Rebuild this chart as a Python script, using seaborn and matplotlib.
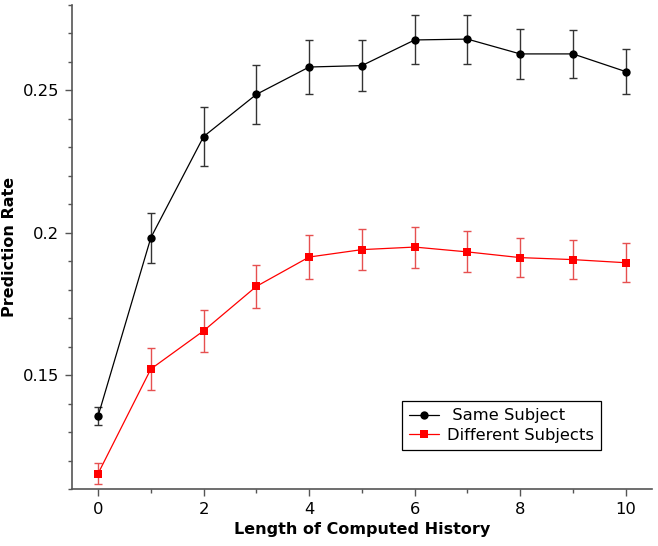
import pandas as pd
import matplotlib.pyplot as plt
import seaborn as sns
import numpy as np
from matplotlib.ticker import MultipleLocator

sns.set_style("ticks")
plt.rcParams['font.family'] = ['DejaVu Sans']
plt.rcParams['text.color'] = 'black'
plt.rcParams['axes.labelcolor'] = 'black'

history = [0, 1, 2, 3, 4, 5, 6, 7, 8, 9, 10]
same_rate = [0.1357, 0.1983, 0.2338, 0.2486, 0.2582, 0.2587, 0.2677, 0.2680, 0.2628, 0.2628, 0.2566]
same_err = [0.0032, 0.0088, 0.0104, 0.0104, 0.0095, 0.0090, 0.0086, 0.0086, 0.0087, 0.0085, 0.0078]
diff_rate = [0.1155, 0.1522, 0.1656, 0.1812, 0.1915, 0.1941, 0.1950, 0.1933, 0.1913, 0.1906, 0.1895]
diff_err = [0.0038, 0.0072, 0.0074, 0.0076, 0.0076, 0.0073, 0.0072, 0.0072, 0.0068, 0.0068, 0.0069]

df = pd.DataFrame({
    'history': history * 2,
    'rate': same_rate + diff_rate,
    'group': [' Same Subject'] * len(history) + ['Different Subjects'] * len(history),
})

fig, ax = plt.subplots(1, 1, figsize=(6.58, 5.46), dpi=100)
fig.subplots_adjust(left=0.109, right=0.991, bottom=0.104, top=0.991)

# error bars first so lines/markers sit on top
ax.errorbar(history, same_rate, yerr=same_err, fmt='none', ecolor='#333333',
            elinewidth=1.0, capsize=3, capthick=1.0, zorder=2)
ax.errorbar(history, diff_rate, yerr=diff_err, fmt='none', ecolor='#e65050',
            elinewidth=1.0, capsize=3, capthick=1.0, zorder=2)

sns.lineplot(data=df, x='history', y='rate', hue='group', style='group',
             palette={' Same Subject': 'black', 'Different Subjects': '#ff0000'},
             markers={' Same Subject': 'o', 'Different Subjects': 's'},
             dashes=False, markersize=6, linewidth=0.9, markeredgewidth=0,
             ax=ax, zorder=3)

ax.set_xlim(-0.5, 10.5)
ax.set_ylim(0.11, 0.28)
ax.xaxis.set_major_locator(MultipleLocator(2))
ax.xaxis.set_minor_locator(MultipleLocator(1))
ax.yaxis.set_minor_locator(MultipleLocator(0.01))
ax.set_yticks([0.15, 0.2, 0.25])
ax.set_yticklabels(['0.15', '0.2', '0.25'])

ax.spines['top'].set_visible(False)
ax.spines['right'].set_visible(False)
for s in ['left', 'bottom']:
    ax.spines[s].set_color('#555555')
    ax.spines[s].set_linewidth(1.2)
ax.tick_params(which='major', length=5, width=1, color='#555555', labelsize=11.8,
               labelcolor='black', pad=4)
ax.tick_params(which='minor', length=3, width=1, color='#555555')

ax.set_xlabel('Length of Computed History', fontsize=11.5, fontweight='bold')
ax.set_ylabel('Prediction Rate', fontsize=11.5, fontweight='bold')

leg = ax.legend(loc='upper left', bbox_to_anchor=(0.569, 0.182), borderaxespad=0,
                fontsize=11.8, frameon=True, fancybox=False, edgecolor='black',
                framealpha=1, handlelength=1.8, borderpad=0.45, labelspacing=0.25,
                handletextpad=0.5)
leg.get_frame().set_linewidth(0.9)

fig.savefig('out.png', dpi=100)
